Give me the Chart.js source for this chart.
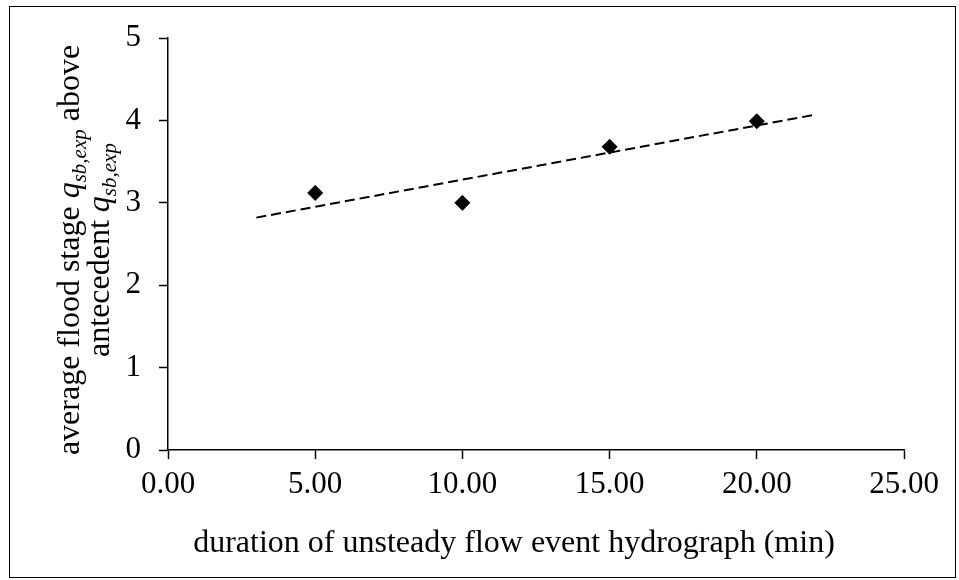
<!DOCTYPE html>
<html>
<head>
<meta charset="utf-8">
<script src="https://cdn.jsdelivr.net/npm/chart.js@4/dist/chart.umd.min.js"></script>
<style>
  html, body { margin: 0; padding: 0; background: #ffffff; }
  #wrap { width: 959px; height: 580px; }
</style>
</head>
<body>
<div id="wrap"><canvas id="chart" width="959" height="580"></canvas></div>
<script>
  // data
  var durations = [5, 10, 15, 20];
  var floodStage = [3.12, 3.0, 3.68, 3.99];
  // linear trend line end points
  var trendX = [3, 22];
  var trendY = [2.82, 4.07];
  var xTicks = [0, 5, 10, 15, 20, 25];
  var yTicks = [0, 1, 2, 3, 4, 5];

  var serif = "'Liberation Serif', 'Times New Roman', serif";
  var tickSize = 31;
  var titleSize = 32;

  var points = [];
  for (var i = 0; i < durations.length; i++) {
    points.push({ x: durations[i], y: floodStage[i] });
  }
  var trend = [];
  for (var i = 0; i < trendX.length; i++) {
    trend.push({ x: trendX[i], y: trendY[i] });
  }

  // draw a run of mixed (normal / italic / subscript) text centred at 0
  function drawRich(ctx, parts) {
    var total = 0;
    parts.forEach(function(p) {
      ctx.font = p.font;
      p.w = ctx.measureText(p.t).width;
      total += p.w;
    });
    var x = -total / 2;
    parts.forEach(function(p) {
      ctx.font = p.font;
      ctx.fillText(p.t, x, p.dy || 0);
      x += p.w;
    });
  }

  var normal = titleSize + "px " + serif;
  var italic = "italic " + titleSize + "px " + serif;
  var subItalic = "italic " + Math.round(titleSize * 0.66) + "px " + serif;

  var decorPlugin = {
    id: "decor",
    afterDraw: function(chart) {
      var ctx = chart.ctx;
      var area = chart.chartArea;
      ctx.save();
      ctx.fillStyle = "#000";
      ctx.textBaseline = "alphabetic";
      ctx.textAlign = "left";

      // x axis title
      ctx.save();
      ctx.translate(514, 552);
      drawRich(ctx, [{ t: "duration of unsteady flow event hydrograph (min)", font: normal }]);
      ctx.restore();

      // y axis title, two lines rotated
      var midY = 250;
      ctx.save();
      ctx.translate(79, midY);
      ctx.rotate(-Math.PI / 2);
      drawRich(ctx, [
        { t: "average flood stage ", font: normal },
        { t: "q", font: italic },
        { t: "sb,exp", font: subItalic, dy: 7 },
        { t: " above", font: normal }
      ]);
      ctx.restore();
      ctx.save();
      ctx.translate(109, midY);
      ctx.rotate(-Math.PI / 2);
      drawRich(ctx, [
        { t: "antecedent ", font: normal },
        { t: "q", font: italic },
        { t: "sb,exp", font: subItalic, dy: 7 }
      ]);
      ctx.restore();

      // outer frame
      ctx.strokeStyle = "#000";
      ctx.lineWidth = 1;
      ctx.strokeRect(9.5, 6.5, 946, 571);
      ctx.restore();
    }
  };

  var axisCommon = {
    border: { display: true, color: "#000", width: 1.5 },
    grid: {
      display: true,
      drawOnChartArea: false,
      drawTicks: true,
      tickLength: 9,
      tickColor: "#000",
      tickWidth: 1.5
    }
  };

  new Chart(document.getElementById("chart"), {
    type: "scatter",
    data: {
      datasets: [
        {
          label: "trend",
          data: trend,
          showLine: true,
          borderColor: "#000",
          borderWidth: 2,
          borderDash: [10, 5],
          pointRadius: 0,
          fill: false
        },
        {
          label: "flood stage",
          data: points,
          pointStyle: "rectRot",
          pointRadius: 7.5,
          backgroundColor: "#000",
          borderColor: "#000",
          borderWidth: 1
        }
      ]
    },
    options: {
      responsive: false,
      animation: false,
      layout: { padding: { top: 38, right: 55, bottom: 0, left: 0 } },
      plugins: {
        legend: { display: false },
        tooltip: { enabled: false }
      },
      scales: {
        x: Object.assign({}, axisCommon, {
          type: "linear",
          min: 0,
          max: 25,
          afterBuildTicks: function(scale) {
            scale.ticks = xTicks.map(function(v) { return { value: v }; });
          },
          afterFit: function(scale) { scale.height = 130; },
          ticks: {
            color: "#000",
            padding: 7,
            maxRotation: 0,
            font: { family: serif, size: tickSize },
            callback: function(v) { return Number(v).toFixed(2); }
          }
        }),
        y: Object.assign({}, axisCommon, {
          type: "linear",
          min: 0,
          max: 5,
          afterBuildTicks: function(scale) {
            scale.ticks = yTicks.map(function(v) { return { value: v }; });
          },
          afterFit: function(scale) { scale.width = 168; },
          ticks: {
            color: "#000",
            padding: 18,
            font: { family: serif, size: tickSize }
          }
        })
      }
    },
    plugins: [decorPlugin]
  });
</script>
</body>
</html>
